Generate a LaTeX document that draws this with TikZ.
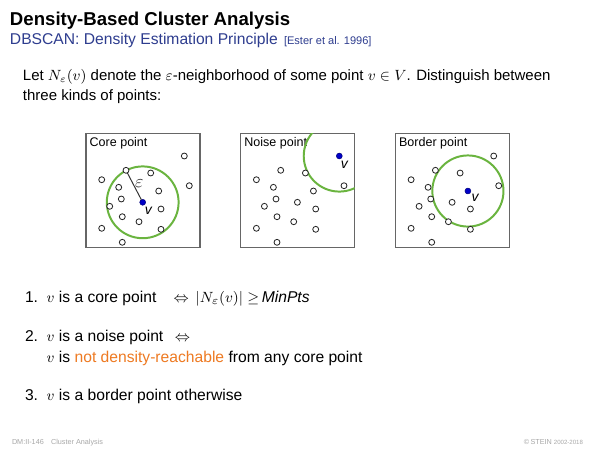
\documentclass[tikz,border=0pt]{standalone}
\usepackage[no-math]{fontspec}
\setmainfont{Liberation Sans}
\usepackage{xcolor}
\definecolor{slideblue}{HTML}{2E3D8F}
\definecolor{epsgreen}{HTML}{6AB43F}
\definecolor{queryblue}{HTML}{0000C8}
\definecolor{boxgrey}{HTML}{666666}
\definecolor{reachorange}{HTML}{EE7A22}
\definecolor{footgrey}{HTML}{A8A8A8}

\begin{document}
\begin{tikzpicture}[
  x=0.6072pt, y=-0.6072pt,
  every node/.style={inner sep=0pt, outer sep=0pt},
  slidetext/.style={anchor=base west, align=left, font=\fontsize{9.5}{12}\selectfont},
  panel/.style={rectangle, draw=boxgrey, line width=0.75pt, minimum width=69.2pt, minimum height=69.2pt},
  panellabel/.style={anchor=base west, font=\fontsize{7.6}{9}\selectfont},
  sample/.style={circle, draw=black!85, fill=white, line width=0.5pt, minimum size=3.6pt},
  query/.style={circle, fill=queryblue, draw=queryblue!60!black, line width=0.3pt, minimum size=3.6pt},
  vlabel/.style={font=\fontsize{8.5}{9}\selectfont\itshape},
  nbhd/.style={draw=epsgreen, line width=1.2pt},
  epsline/.style={line width=0.6pt, black!80}
]

%% Page
\path[fill=white] (0,0) rectangle (600,450);

%% Header
\node[anchor=base west, font=\fontsize{11.3}{13}\selectfont\bfseries] (title) at (10,25) {Density-Based Cluster Analysis};
\node[anchor=base west, font=\fontsize{9.5}{11}\selectfont, text=slideblue] (subtitle) at (10,44) {DBSCAN: Density Estimation Principle};
\node[anchor=base west, font=\fontsize{6.7}{8}\selectfont, text=slideblue] (cite) at (284,44) {[Ester et al. 1996]};

%% Intro text (base = last line)
\node[slidetext, font=\fontsize{9.1}{11.9}\selectfont] (intro) at (23,100.3) {Let $N_\varepsilon(v)$ denote the $\varepsilon$-neighborhood of some point $v \in V$. Distinguish between\\three kinds of points:};

%% Panel 1: core point
\node[panel] (corebox) at (143,190.3) {};
\node[panellabel] (corelab) at (89.7,146.5) {Core point};
\draw[nbhd] (142.7,202.3) circle[radius=21.8pt];
\node[sample] (a1) at (184.3,156) {};
\node[sample] (b1) at (126,170.3) {};
\node[sample] (c1) at (150.7,173) {};
\node[sample] (d1) at (101.7,179.7) {};
\node[sample] (e1) at (118.7,187.3) {};
\node[sample] (f1) at (189.3,185.7) {};
\node[sample] (g1) at (158.7,191) {};
\node[sample] (h1) at (121.3,199) {};
\node[sample] (i1) at (109.7,206.3) {};
\node[query] (j1) at (142.7,202.3) {};
\node[sample] (k1) at (161,209) {};
\node[sample] (l1) at (122.3,216.7) {};
\node[sample] (m1) at (139,221.7) {};
\node[sample] (n1) at (101.7,228.3) {};
\node[sample] (o1) at (161,229.3) {};
\node[sample] (p1) at (122.3,242.3) {};
\draw[epsline] (j1) -- (b1) node[pos=0.6, right=1.3pt, font=\fontsize{10.5}{10.5}\selectfont] (epslab) {$\varepsilon$};
\node[vlabel] (vlab1) at (148.3,211) {v};

%% Panel 2: noise point
\node[panel] (noisebox) at (297.7,190.3) {};
\node[panellabel] (noiselab) at (244.4,146.5) {Noise point};
\begin{scope}
  \clip (noisebox.south west) rectangle (noisebox.north east);
  \draw[nbhd] (339.3,156) circle[radius=21.6pt];
\end{scope}
\node[query] (a2) at (339.3,156) {};
\node[sample] (b2) at (280.7,170.3) {};
\node[sample] (c2) at (305.4,173) {};
\node[sample] (d2) at (256.4,179.7) {};
\node[sample] (e2) at (273.4,187.3) {};
\node[sample] (f2) at (344,185.7) {};
\node[sample] (g2) at (313.4,191) {};
\node[sample] (h2) at (276,199) {};
\node[sample] (i2) at (264.4,206.3) {};
\node[sample] (j2) at (297.4,202.3) {};
\node[sample] (k2) at (315.7,209) {};
\node[sample] (l2) at (277,216.7) {};
\node[sample] (m2) at (293.7,221.7) {};
\node[sample] (n2) at (256.4,228.3) {};
\node[sample] (o2) at (315.7,229.3) {};
\node[sample] (p2) at (277,242.3) {};
\node[vlabel] (vlab2) at (344.3,164.3) {v};

%% Panel 3: border point
\node[panel] (borderbox) at (452.4,190.3) {};
\node[panellabel] (borderlab) at (399.1,146.5) {Border point};
\draw[nbhd] (467.9,191) circle[radius=21.6pt];
\node[sample] (a3) at (493.7,156) {};
\node[sample] (b3) at (435.4,170.3) {};
\node[sample] (c3) at (460.1,173) {};
\node[sample] (d3) at (411.1,179.7) {};
\node[sample] (e3) at (428.1,187.3) {};
\node[sample] (f3) at (498.7,185.7) {};
\node[query] (g3) at (467.9,191) {};
\node[sample] (h3) at (430.7,199) {};
\node[sample] (i3) at (419.1,206.3) {};
\node[sample] (j3) at (452.1,202.3) {};
\node[sample] (k3) at (470.4,209) {};
\node[sample] (l3) at (431.7,216.7) {};
\node[sample] (m3) at (448.4,221.7) {};
\node[sample] (n3) at (411.1,228.3) {};
\node[sample] (o3) at (470.4,229.3) {};
\node[sample] (p3) at (431.7,242.3) {};
\node[vlabel] (vlab3) at (475,197.7) {v};

%% Enumeration (item 2: base = second line)
\node[slidetext] (num1) at (25,302.7) {1.};
\node[slidetext] (item1) at (46.7,302.7) {$v$ is a core point\hspace{10.5pt}$\Leftrightarrow\,|N_\varepsilon(v)|\geq$\,\textit{MinPts}};
\node[slidetext] (num2) at (25,341.7) {2.};
\node[slidetext, font=\fontsize{9.5}{12.75}\selectfont] (item2) at (46.7,362.7) {$v$ is a noise point\hspace{7pt}$\Leftrightarrow$\\$v$ is \textcolor{reachorange}{not density-reachable} from any core point};
\node[slidetext] (num3) at (25,400.7) {3.};
\node[slidetext] (item3) at (46.7,400.7) {$v$ is a border point otherwise};

%% Footer
\node[anchor=base west, font=\fontsize{4.4}{5}\selectfont, text=footgrey] (footleft) at (12,444) {DM:II-146\quad Cluster Analysis};
\node[anchor=base east, font=\fontsize{4.4}{5}\selectfont, text=footgrey] (footright) at (583,444) {\copyright\,STEIN {\fontsize{3.7}{4}\selectfont 2002-2018}};

\end{tikzpicture}
\end{document}
